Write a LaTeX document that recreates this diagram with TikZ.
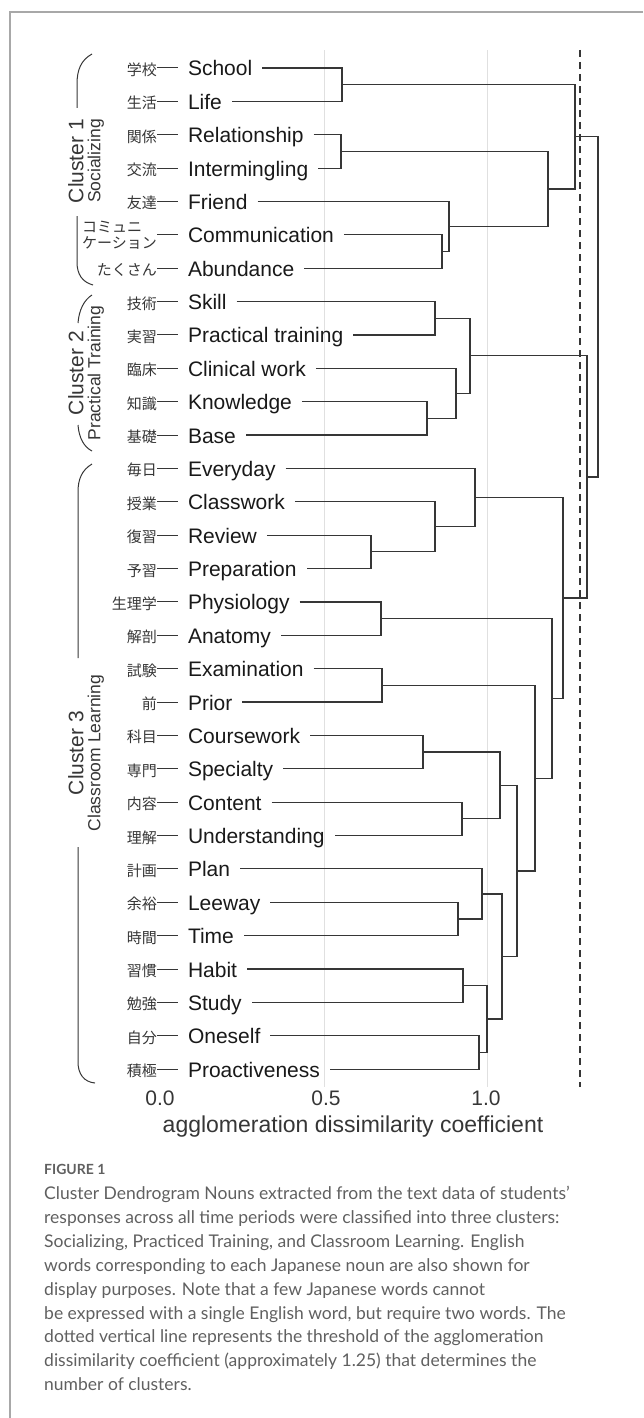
\documentclass[tikz,border=0pt]{standalone}
\usepackage{fontspec}
\setmainfont{Liberation Sans}
\newfontfamily\jpfont{Noto Sans CJK JP}
\newfontfamily\capfont{Lato}
\usepackage{tikz}
\usetikzlibrary{calc}
\definecolor{ink}{HTML}{363636}
\definecolor{captext}{HTML}{606060}
\definecolor{framegray}{HTML}{A8A8A8}

\newcommand{\joinat}[4]{%
\coordinate (tmp) at ($(#3)!0.5!(#4)$);
\coordinate (#1) at (tmp -| #2,0);
\draw[branch] (#3) -| (#1) |- (#4);}
\newcommand{\commjp}{\raisebox{-6.5pt}[0pt][0pt]{\begin{tabular}[b]{@{}l@{}}コミュニ\\ケーション\end{tabular}}\hspace{-10pt}}

\begin{document}
\begin{tikzpicture}[x=1pt, y=-1pt, every node/.style={inner sep=0pt},
en/.style={font=\fontsize{21}{21}\selectfont, text height=16pt, text depth=0pt, outer sep=10pt, text=black!90},
jp/.style={font=\jpfont\fontsize{15}{14}\selectfont, text height=15pt, text depth=0pt, text=ink},
branch/.style={draw=ink, line width=1.2pt},
brace/.style={draw=ink, line width=1pt},
tick/.style={font=\fontsize{21}{21}\selectfont, text=ink},
cluster/.style={rotate=90, align=center, text=ink, font=\fontsize{17.5}{17}\selectfont}]
\useasboundingbox (0,0) rectangle (643,1418);
\draw[framegray, line width=1.3pt] (643,12) -- (10,12) -- (10,1418);

\draw[black!12, line width=0.8pt] (324,50) -- (324,1087);
\draw[black!12, line width=0.8pt] (487,50) -- (487,1087);
\draw[ink, line width=1.1pt, dash pattern=on 7pt off 5pt] (580,50) -- (580,1087);

\foreach \jp/\en [count=\i] in {学校/School, 生活/Life, 関係/Relationship, 交流/Intermingling, 友達/Friend, \commjp/Communication, たくさん/Abundance, 技術/Skill, 実習/Practical training, 臨床/Clinical work, 知識/Knowledge, 基礎/Base, 毎日/Everyday, 授業/Classwork, 復習/Review, 予習/Preparation, 生理学/Physiology, 解剖/Anatomy, 試験/Examination, 前/Prior, 科目/Coursework, 専門/Specialty, 内容/Content, 理解/Understanding, 計画/Plan, 余裕/Leeway, 時間/Time, 習慣/Habit, 勉強/Study, 自分/Oneself, 積極/Proactiveness} {
\node[jp, anchor=east] (j\i) at (157, {68+(\i-1)*33.37}) {\jp};
\node[en, anchor=west] (e\i) at (178, {68+(\i-1)*33.37}) {\en};
\draw[ink, line width=1pt] (j\i) -- (e\i);
}

\joinat{sl}{342}{e1}{e2}
\joinat{ri}{341}{e3}{e4}
\joinat{ca}{442}{e6}{e7}
\joinat{fca}{449}{e5}{ca}
\joinat{rif}{548}{ri}{fca}
\joinat{cone}{575}{sl}{rif}
\joinat{sp}{435}{e8}{e9}
\joinat{kb}{427}{e11}{e12}
\joinat{ckb}{456}{e10}{kb}
\joinat{ctwo}{470}{sp}{ckb}
\joinat{rp}{371}{e15}{e16}
\joinat{crp}{435}{e14}{rp}
\joinat{ecrp}{475}{e13}{crp}
\joinat{pa}{381}{e17}{e18}
\joinat{ep}{382}{e19}{e20}
\joinat{cs}{423}{e21}{e22}
\joinat{cu}{462}{e23}{e24}
\joinat{cscu}{500}{cs}{cu}
\joinat{lt}{458}{e26}{e27}
\joinat{plt}{482}{e25}{lt}
\joinat{hs}{463}{e28}{e29}
\joinat{op}{479}{e30}{e31}
\joinat{hsop}{487}{hs}{op}
\joinat{pl}{502}{plt}{hsop}
\joinat{low}{517}{cscu}{pl}
\joinat{ex}{535}{ep}{low}
\joinat{pe}{552}{pa}{ex}
\joinat{cthree}{563}{ecrp}{pe}
\joinat{ctt}{587}{ctwo}{cthree}
\joinat{root}{598}{cone}{ctt}

\node[cluster] (cl1) at (86,161) {{\fontsize{21}{21}\selectfont Cluster 1}\\Socializing};
\node[cluster] (cl2) at (86,373) {{\fontsize{21}{21}\selectfont Cluster 2}\\Practical Training};
\node[cluster] (cl3) at (86,753) {{\fontsize{21}{21}\selectfont Cluster 3}\\Classroom Learning};
\draw[brace] (92,54) .. controls (81,60) and (77,70) .. (77,84) -- (77,108);
\draw[brace] (77,216) -- (77,262) .. controls (77,274) and (82,282) .. (93,285);
\draw[brace] (92,295) .. controls (84,300) and (79,310) .. (78,323);
\draw[brace] (78,425) .. controls (79,438) and (84,447) .. (92,451);
\draw[brace] (92,464) .. controls (82,470) and (78,479) .. (78,492) -- (78,658);
\draw[brace] (78,847) -- (78,1062) .. controls (78,1074) and (84,1082) .. (95,1083);

\node[tick] (t0) at (160,1098) {0.0};
\node[tick] (t1) at (326,1098) {0.5};
\node[tick] (t2) at (486,1098) {1.0};
\node[tick, font=\fontsize{23}{23}\selectfont] (xlab) at (353,1127) {agglomeration dissimilarity coefficient};

\node[anchor=base west, text=captext, font=\capfont\bfseries\fontsize{14}{14}\selectfont] (fig) at (44,1174) {FIGURE 1};
\node[anchor=north west, align=left, text=captext, font=\capfont\fontsize{17.5}{23.9}\selectfont] (caption) at (44,1186) {Cluster Dendrogram Nouns extracted from the text data of students’\\
responses across all time periods were classified into three clusters:\\
Socializing, Practiced Training, and Classroom Learning. English\\
words corresponding to each Japanese noun are also shown for\\
display purposes. Note that a few Japanese words cannot\\
be expressed with a single English word, but require two words. The\\
dotted vertical line represents the threshold of the agglomeration\\
dissimilarity coefficient (approximately 1.25) that determines the\\
number of clusters.};
\end{tikzpicture}
\end{document}
